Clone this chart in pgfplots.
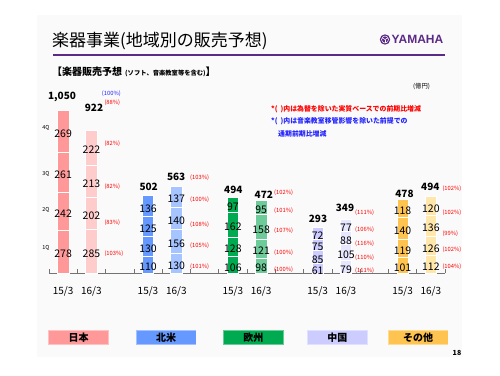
\documentclass[border=0pt]{standalone}
\usepackage{pgfplots}
\pgfplotsset{compat=1.18}
\usepackage{fontspec}
\setmainfont{Noto Sans CJK JP}
\newfontfamily\lat{Liberation Sans}
\definecolor{jp1}{HTML}{FF9999}
\definecolor{jp2}{HTML}{FFCCCC}
\definecolor{na1}{HTML}{6699FF}
\definecolor{na2}{HTML}{A6C4FF}
\definecolor{eu1}{HTML}{00AA50}
\definecolor{eu2}{HTML}{6CCB98}
\definecolor{cn1}{HTML}{CCCCFF}
\definecolor{cn2}{HTML}{E6E6FF}
\definecolor{ot1}{HTML}{FFC44F}
\definecolor{ot2}{HTML}{FFE6AA}
\definecolor{ymh}{HTML}{5B2A86}
\definecolor{pred}{HTML}{FF0000}
\definecolor{pblue}{HTML}{2222FF}
\pgfplotsset{geom/.style={at={(49pt,-273pt)}, anchor=south west, scale only axis,
  width=396pt, height=170pt, xmin=-0.5, xmax=13.5, ymin=0, ymax=1100, clip=false}}
\tikzset{seg/.style={font=\fontsize{10.5}{12}\selectfont, inner sep=0pt, yshift=-2.5pt},
  tot/.style={font=\fontsize{10}{12}\selectfont\bfseries, inner sep=0pt},
  pct/.style={font=\fontsize{5.8}{7}\selectfont, text=pred, inner sep=0pt, anchor=west},
  ql/.style={font=\fontsize{5.5}{7}\selectfont, inner sep=0pt}}
% data: x position, colour, 1Q, 2Q, 3Q, 4Q
\def\alldata{%
 \B{0}{jp1}{278}{242}{261}{269}%
 \B{1}{jp2}{285}{202}{213}{222}%
 \B{3}{na1}{110}{130}{125}{136}%
 \B{4}{na2}{130}{156}{140}{137}%
 \B{6}{eu1}{106}{128}{162}{97}%
 \B{7}{eu2}{98}{121}{158}{95}%
 \B{9}{cn1}{61}{85}{75}{72}%
 \B{10}{cn2}{79}{105}{88}{77}%
 \B{12}{ot1}{101}{119}{140}{118}%
 \B{13}{ot2}{112}{126}{136}{120}}
\newcommand\onebar[6]{%
 \begin{axis}[geom, hide axis, ybar stacked, bar width=11.5pt]
 \addplot[fill=#2, draw=white, line width=0.6pt] coordinates {(#1,#3)};
 \addplot[fill=#2, draw=white, line width=0.6pt] coordinates {(#1,#4)};
 \addplot[fill=#2, draw=white, line width=0.6pt] coordinates {(#1,#5)};
 \addplot[fill=#2, draw=white, line width=0.6pt] coordinates {(#1,#6)};
 \end{axis}}
\newcommand\onelab[6]{%
 \pgfmathsetmacro\mA{#3/2}%
 \pgfmathsetmacro\mB{#3+#4/2}%
 \pgfmathsetmacro\mC{#3+#4+#5/2}%
 \pgfmathsetmacro\mD{#3+#4+#5+#6/2}%
 \begin{axis}[geom, hide axis]
 \node[seg] at (axis cs:#1,\mA) {#3};
 \node[seg] at (axis cs:#1,\mB) {#4};
 \node[seg] at (axis cs:#1,\mC) {#5};
 \node[seg] at (axis cs:#1,\mD) {#6};
 \end{axis}}
\begin{document}
\begin{tikzpicture}[x=1pt,y=-1pt]
\fill[white] (0,0) rectangle (500,375);
\fill[black!2] (37,15) rectangle (462,357);
% title
\node[anchor=west, inner sep=0pt, font=\fontsize{17}{20}\selectfont] at (52,41.5) {楽器事業(地域別の販売予想)};
\draw[ymh, line width=1.3pt] (53,55) -- (445,55);
\fill[ymh] (385,39.5) circle (5.2);
\draw[white, line width=0.5pt] (385,39.5) circle (3.5);
\foreach \a in {90,210,330} \draw[white, line width=0.6pt] (385,39.5) -- ++(\a:3.3);
\node[anchor=west, inner sep=0pt, text=ymh, font=\lat\fontsize{12}{14}\selectfont\bfseries] at (391.5,39.5) {YAMAHA};
% subtitle
\node[anchor=west, inner sep=0pt] at (52,72) {\fontsize{10}{12}\selectfont\bfseries 【楽器販売予想\hspace{3pt}\fontsize{6.3}{8}\selectfont (ソフト、音楽教室等を含む)\fontsize{10}{12}\selectfont 】};
\node[inner sep=0pt, font=\fontsize{6.3}{8}\selectfont] at (421.5,86) {(億円)};
% notes
\node[anchor=west, inner sep=0pt, text=pred, font=\fontsize{6.9}{8}\selectfont\bfseries] at (271,109) {*(\hspace{3pt})内は為替を除いた実質ベースでの前期比増減};
\node[anchor=west, inner sep=0pt, text=pblue, font=\fontsize{6.9}{8}\selectfont\bfseries] at (271,121.5) {*(\hspace{3pt})内は音楽教室移管影響を除いた前提での};
\node[anchor=west, inner sep=0pt, text=pblue, font=\fontsize{6.9}{8}\selectfont\bfseries] at (278,134) {通期前期比増減};
% axis
\begin{axis}[geom, axis x line=bottom, axis y line=none,
  axis line style={-, black!55, line width=0.6pt},
  xtick={0,1,3,4,6,7,9,10,12,13},
  xticklabels={15/3,16/3,15/3,16/3,15/3,16/3,15/3,16/3,15/3,16/3},
  major tick length=0pt, minor xtick={-0.5,0.5,...,13.5}, minor tick length=4pt,
  tick align=inside, minor tick style={black!55, line width=0.6pt},
  xticklabel style={font=\fontsize{10}{12}\selectfont, anchor=center, yshift=-18pt}]
\end{axis}
\let\B\onebar \alldata
\let\B\onelab \alldata
% totals
\node[tot] at (62,97) {1,050};
\node[tot] at (94,108.3) {922};
\node[tot] at (148.7,187.3) {502};
\node[tot] at (176.2,176.7) {563};
\node[tot] at (233.3,190) {494};
\node[tot] at (263.8,195) {472};
\node[tot] at (318,219.3) {293};
\node[tot] at (345,208.3) {349};
\node[tot] at (404.5,194) {478};
\node[tot] at (430.3,187.3) {494};
% quarter labels
\node[ql] at (46,127.7) {4Q};
\node[ql] at (46,174.3) {3Q};
\node[ql] at (46,210) {2Q};
\node[ql] at (46,248.3) {1Q};
% percentages
\node[pct, text=pblue] at (101.7,93.3) {(100\%)};
\node[pct] at (104.3,102.7) {(88\%)};
\node[pct] at (104.3,143.3) {(82\%)};
\node[pct] at (104.3,186.7) {(82\%)};
\node[pct] at (104.3,222.3) {(83\%)};
\node[pct] at (104.3,254) {(103\%)};
\node[pct] at (190,177.7) {(103\%)};
\node[pct] at (190,200) {(100\%)};
\node[pct] at (190,224.3) {(108\%)};
\node[pct] at (190,245.7) {(105\%)};
\node[pct] at (190,266.7) {(101\%)};
\node[pct] at (274,192.3) {(102\%)};
\node[pct] at (274,211) {(101\%)};
\node[pct] at (274,231) {(107\%)};
\node[pct] at (274,252.7) {(100\%)};
\node[pct] at (274,270) {(100\%)};
\node[pct] at (355,212.7) {(111\%)};
\node[pct] at (355,230) {(106\%)};
\node[pct] at (355,244) {(116\%)};
\node[pct] at (355,257.3) {(110\%)};
\node[pct] at (355,270.7) {(111\%)};
\node[pct] at (442.3,188.3) {(102\%)};
\node[pct] at (442.3,212.3) {(102\%)};
\node[pct] at (442.3,234) {(99\%)};
\node[pct] at (442.3,250) {(102\%)};
\node[pct] at (442.3,266.7) {(104\%)};
% region boxes
\foreach \xa/\xb/\c/\t in {48.3/109/jp1/日本, 135.7/196.3/na1/北米, 223/283.7/eu1/欧州, 307/367.7/cn1/中国, 387.7/448.3/ot1/その他}{
  \fill[\c!60!white] (\xa,330) rectangle (\xb,344.5);
  \fill[\c] (\xa+0.8,330.8) rectangle (\xb-0.8,343.7);
  \node[inner sep=0pt, font=\fontsize{10}{12}\selectfont\bfseries] at ({(\xa+\xb)/2},337.3) {\t};
}
\node[inner sep=0pt, font=\fontsize{7}{8}\selectfont\bfseries] at (457,352.7) {18};
\end{tikzpicture}
\end{document}
